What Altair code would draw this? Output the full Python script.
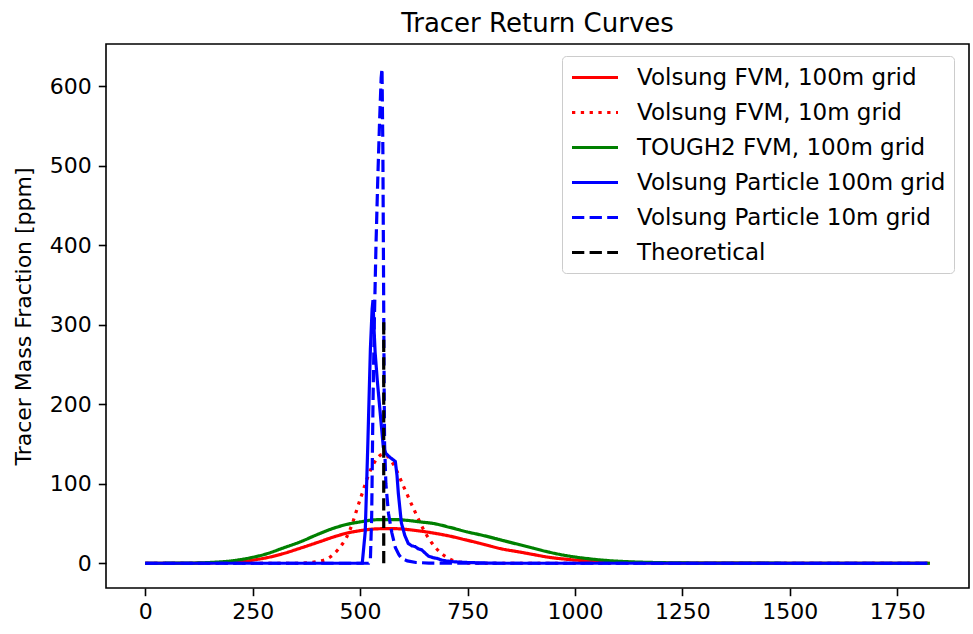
import altair as alt
import pandas as pd

# ---- series labels and styles ----
labels = [
    "Volsung FVM, 100m grid",
    "Volsung FVM, 10m grid",
    "TOUGH2 FVM, 100m grid",
    "Volsung Particle 100m grid",
    "Volsung Particle 10m grid",
    "Theoretical",
]
colors = ["#ff0000", "#ff0000", "#008000", "#0000ff", "#0000ff", "#000000"]
dashes = [[1, 0], [3.3, 5.5], [1, 0], [1, 0], [12.3, 5.3], [12.3, 5.3]]

# ---- data ----
fvm100_x = [0, 100, 150, 200, 221, 250, 283, 320, 361, 400, 438, 470, 500, 530, 555, 580, 609, 640,
            671, 710, 749, 790, 826, 873, 903, 940, 981, 1020, 1059, 1100, 1150, 1200, 1300, 1826]
fvm100_y = [0, 0, 0.5, 1.5, 2, 4, 7, 12, 19, 26, 33, 38, 41, 43, 43.5, 43.5, 42.5, 40.5,
            38, 34, 29, 23.5, 18.5, 14, 11, 7.5, 5, 3.3, 2.2, 1.4, 0.8, 0.4, 0.1, 0]

fvm10_x = [0, 350, 375, 400, 425, 450, 475, 500, 525, 540, 552, 565, 580, 600, 625, 650, 675, 700,
           725, 750, 775, 1826]
fvm10_y = [0, 0, 0.5, 2, 6, 18, 40, 80, 118, 132, 137, 134, 122, 98, 68, 40, 20, 8,
           2, 0.5, 0, 0]

tough_x = [0, 100, 151, 200, 221, 250, 283, 320, 361, 400, 438, 470, 500, 530, 555, 580, 609, 640,
           671, 710, 749, 790, 826, 870, 903, 940, 981, 1020, 1059, 1100, 1136, 1200, 1260, 1350, 1826]
tough_y = [0, 0.2, 1, 3, 4.6, 7.5, 12, 19, 27, 36, 44, 49, 52, 54.5, 55, 55, 54, 52,
           50, 45, 39.5, 34.5, 29.5, 23.5, 19, 14, 9.5, 6.5, 4.2, 2.6, 1.7, 0.8, 0.4, 0.1, 0]

part100_x = [0, 505, 512, 518, 524, 528, 530, 532, 535, 540, 545, 550, 554, 560, 570, 582, 586, 589,
             596, 604, 612, 620, 628, 636, 643, 651, 659, 670, 680, 690, 700, 715, 730, 750, 780, 820, 1820]
part100_y = [0, 0, 40, 150, 270, 320, 331, 300, 265, 230, 200, 170, 146, 138, 133, 128, 110, 88,
             51, 35, 25, 22, 21, 18, 17, 13, 9, 7, 6, 4, 3, 2, 1.5, 1, 0.5, 0, 0]

part10_x = [0, 520, 524, 527, 530, 533, 537, 541, 545, 549, 551, 553, 554, 555, 556, 557, 560, 566,
            574, 582, 590, 597, 610, 630, 660, 700, 1820]
part10_y = [0, 0, 5, 60, 200, 300, 400, 480, 550, 610, 622, 520, 420, 317, 220, 150, 100, 63,
            38, 20, 11, 6, 3, 1, 0.3, 0, 0]

theo_x = [555, 555]
theo_y = [0, 310]

xs = [fvm100_x, fvm10_x, tough_x, part100_x, part10_x, theo_x]
ys = [fvm100_y, fvm10_y, tough_y, part100_y, part10_y, theo_y]
x_ticks = [0, 250, 500, 750, 1000, 1250, 1500, 1750]
y_ticks = [0, 100, 200, 300, 400, 500, 600]

FONT = "DejaVu Sans"

legend = alt.Legend(
    title=None,
    orient="none",
    legendX=456,
    legendY=12,
    symbolType="M-1,0H3",
    symbolSize=529,
    symbolStrokeWidth=3.2,
    labelFont=FONT,
    labelFontSize=23,
    labelColor="#000000",
    labelOffset=40,
    labelLimit=500,
    rowPadding=9,
    padding=8,
    strokeColor="#cccccc",
    fillColor="rgba(255,255,255,0.8)",
    cornerRadius=4,
)

x_enc = alt.X(
    "x:Q",
    scale=alt.Scale(domain=[-91.3, 1917], nice=False, zero=False),
    axis=alt.Axis(values=x_ticks, title=None, grid=False, domain=False,
                  tickColor="#000000", tickSize=7.7, tickWidth=1.6,
                  labelFont=FONT, labelFontSize=22, labelColor="#000000",
                  labelPadding=6, format="d", labelFlush=False),
)
y_enc = alt.Y(
    "y:Q",
    scale=alt.Scale(domain=[-31.1, 653], nice=False, zero=False),
    axis=alt.Axis(values=y_ticks, title="Tracer Mass Fraction [ppm]", grid=False, domain=False,
                  tickColor="#000000", tickSize=7.7, tickWidth=1.6,
                  labelFont=FONT, labelFontSize=22, labelColor="#000000",
                  labelPadding=7, format="d", labelFlush=False,
                  titleFont=FONT, titleFontSize=22, titleFontWeight="normal",
                  titleColor="#000000", titlePadding=14),
)
color_enc = alt.Color("series:N", scale=alt.Scale(domain=labels, range=colors), legend=legend)
dash_enc = alt.StrokeDash("series:N", scale=alt.Scale(domain=labels, range=dashes), legend=legend)

layers = []
for i, lab in enumerate(labels):
    df = pd.DataFrame({"x": xs[i], "y": ys[i], "series": lab})
    interp = "monotone" if i in (0, 1, 2) else "linear"
    layers.append(
        alt.Chart(df)
        .mark_line(strokeWidth=3.2, strokeCap="butt", clip=True, interpolate=interp)
        .encode(x=x_enc, y=y_enc, color=color_enc, strokeDash=dash_enc, order=alt.value(i))
    )

chart = (
    alt.layer(*layers)
    .properties(
        width=863,
        height=544,
        title=alt.Title("Tracer Return Curves", font=FONT, fontSize=26, fontWeight="normal",
                        color="#000000", anchor="middle", offset=7),
        autosize=alt.AutoSizeParams(type="none"),
        padding={"left": 106, "top": 44, "right": 4, "bottom": 46},
        background="#ffffff",
    )
    .configure_view(stroke="#000000", strokeWidth=1.6)
)

chart.save("out.html", embed_options={"renderer": "svg", "actions": False})
